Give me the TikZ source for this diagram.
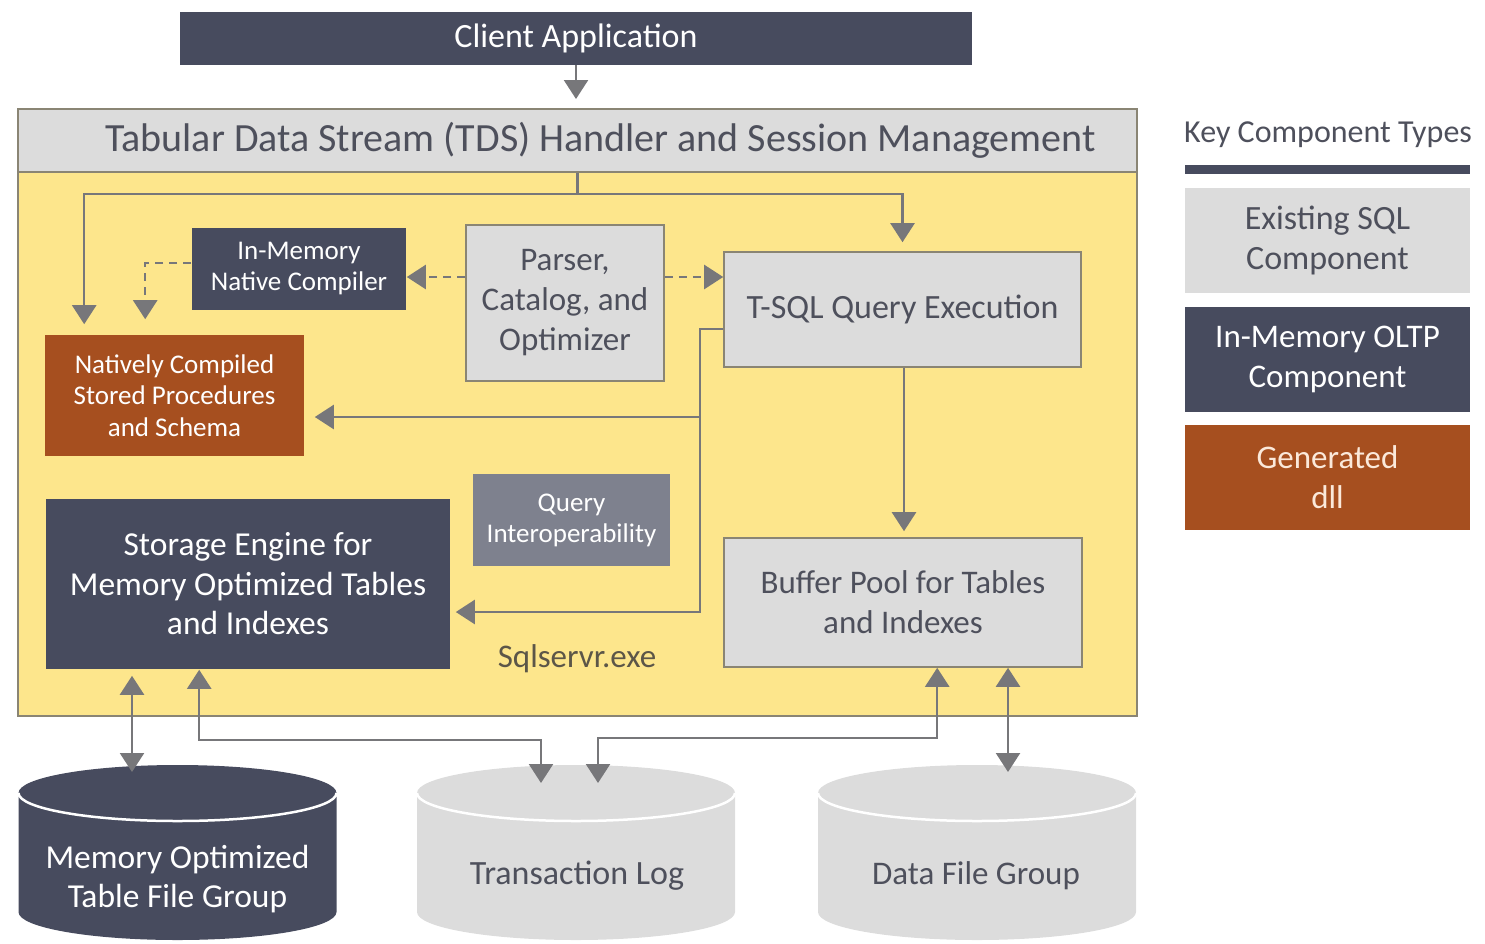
\documentclass[tikz,border=0pt]{standalone}
\usepackage{fontspec}
\setmainfont{Carlito}
\usetikzlibrary{arrows.meta,calc}

\definecolor{slate}{HTML}{474B5E}
\definecolor{compgray}{HTML}{DCDCDC}
\definecolor{gen}{HTML}{A64F1F}
\definecolor{engine}{HTML}{FDE68C}
\definecolor{edge}{HTML}{8A8574}
\definecolor{wirec}{HTML}{77777A}
\definecolor{ink}{HTML}{4E505C}
\definecolor{interop}{HTML}{7E818E}
\definecolor{exe}{HTML}{5C5648}
\definecolor{cream}{HTML}{FBE9DA}

\newcommand{\fsz}[2]{\fontsize{#1}{#2}\selectfont}

% storage cylinder: #1 centre x, #2 fill colour
\newcommand{\drum}[2]{%
  \fill[#2] (#1-159,793) -- (#1-159,912)
    arc[start angle=180,end angle=360,x radius=159pt,y radius=28pt]
    -- (#1+159,793)
    arc[start angle=0,end angle=180,x radius=159pt,y radius=28pt] -- cycle;
  \draw[white,line width=2.5pt] (#1-159,793)
    arc[start angle=180,end angle=360,x radius=159pt,y radius=28pt];
}

\begin{document}
\begin{tikzpicture}[x=1pt,y=-1pt,
  box/.style={rectangle,inner sep=0pt,align=center,line width=1.6pt},
  existing/.style={box,fill=compgray,draw=edge,text=ink},
  oltp/.style={box,fill=slate,text=white},
  dll/.style={box,fill=gen,text=white},
  wire/.style={draw=wirec,line width=2.4pt},
  tip/.tip={Triangle[length=19pt,width=24pt]},
  arr/.style={wire,-tip},
  dbl/.style={wire,tip-tip},
  darr/.style={arr,dash pattern=on 8pt off 6pt},
]
\useasboundingbox (0,0) rectangle (1485,943);

% client
\node[oltp,minimum width=792pt,minimum height=53pt,font=\fsz{34}{40}] (client) at (576,38) {Client Application};

% sqlservr process frame
\node[box,fill=engine,draw=edge,line width=2pt,minimum width=1119pt,minimum height=607pt] (frame) at (577.5,412.5) {};
\node[existing,line width=2pt,minimum width=1119pt,minimum height=63pt,font=\fsz{40}{46}] (tdshead) at (577.5,140.5) {\hspace*{46pt}Tabular Data Stream (TDS) Handler and Session Management};

% components
\node[oltp,minimum width=214pt,minimum height=82pt,font=\fsz{27}{31}] (nc) at (299,269) {In-Memory\\Native Compiler};
\node[existing,minimum width=198pt,minimum height=156pt,font=\fsz{33}{40}] (parser) at (565,303) {Parser,\\Catalog, and\\Optimizer};
\node[existing,minimum width=357pt,minimum height=115pt,font=\fsz{34}{40}] (tsql) at (902.5,309.5) {T-SQL Query Execution};
\node[dll,minimum width=259pt,minimum height=121pt,font=\fsz{27}{31.5}] (ncsp) at (174.5,395.5) {Natively Compiled\\Stored Procedures\\and Schema};
\node[oltp,minimum width=404pt,minimum height=170pt,font=\fsz{33.5}{39.5}] (storage) at (248,584) {Storage Engine for\\Memory Optimized Tables\\and Indexes};
\node[box,fill=interop,text=white,minimum width=197pt,minimum height=92pt,font=\fsz{27}{31}] (interop) at (571.5,520) {Query\\Interoperability};
\node[existing,minimum width=358pt,minimum height=129pt,font=\fsz{33}{40}] (buffer) at (903,602.5) {Buffer Pool for Tables\\and Indexes};
\node[text=exe,font=\fsz{33}{38}] (exe) at (577,659) {Sqlservr.exe};

% storage files
\drum{177.5}{slate}
\drum{576}{compgray}
\drum{977}{compgray}
\node[text=white,align=center,font=\fsz{33.5}{38.5}] (memfg) at (177.5,879) {Memory Optimized\\Table File Group};
\node[text=ink,font=\fsz{34}{38}] (translog) at (577,876) {Transaction Log};
\node[text=ink,font=\fsz{33}{38}] (datafg) at (976,876) {Data File Group};
\coordinate (memin) at (132,772);
\coordinate (loga) at (541,783);
\coordinate (logb) at (598,783);
\coordinate (datain) at (1008,772);

% legend
\node[text=ink,font=\fsz{32}{36},anchor=west,inner sep=0pt] (keytitle) at (1184,135) {Key Component Types};
\node[box,fill=slate,minimum width=285pt,minimum height=9pt] (keybar) at (1327.5,169.5) {};
\node[box,fill=compgray,text=ink,minimum width=285pt,minimum height=105pt,font=\fsz{34}{40}] (keyexist) at (1327.5,240.5) {Existing SQL\\Component};
\node[oltp,minimum width=285pt,minimum height=105pt,font=\fsz{33}{40}] (keyoltp) at (1327.5,359.5) {In-Memory OLTP\\Component};
\node[dll,text=cream,minimum width=285pt,minimum height=105pt,font=\fsz{33}{40}] (keydll) at (1327.5,477.5) {Generated\\dll};

% connectors
\draw[arr,shorten >=9pt] (client.south) -- (client.south |- tdshead.north);
\coordinate (split) at ([yshift=-21pt]tdshead.south);
\draw[wire] (tdshead.south) -- (split);
\draw[arr,shorten >=10pt] (split) -| ([xshift=40pt]ncsp.north west);
\draw[arr,shorten >=9pt] (split) -| (tsql.north);

\draw[darr] ([yshift=26pt]parser.west) -- ([yshift=26pt]parser.west -| nc.east);
\draw[darr] ([yshift=26pt]parser.east) -- ([yshift=26pt]parser.east -| tsql.west);
\draw[darr,shorten >=15pt] ([yshift=6pt]nc.west) -| ([xshift=101pt]ncsp.north west);

\coordinate (trunk) at (700,417);
\draw[arr,shorten >=5pt] ([yshift=-19.5pt]tsql.west) -| (trunk) |- ([yshift=-28pt]storage.east);
\draw[arr,shorten >=10pt] (trunk) -- (trunk -| ncsp.east);

\draw[arr,shorten >=6pt] ([xshift=1.5pt]tsql.south) -- ([xshift=1.5pt]tsql.south |- buffer.north);

\draw[dbl,shorten <=6pt] (memin |- storage.south) -- (memin);
\draw[dbl] ([xshift=154pt]storage.south west) -- ++(0,70) -| (loga);
\draw[dbl] ([xshift=214pt]buffer.south west) -- ++(0,70) -| (logb);
\draw[dbl] (datain |- buffer.south) -- (datain);
\end{tikzpicture}
\end{document}
